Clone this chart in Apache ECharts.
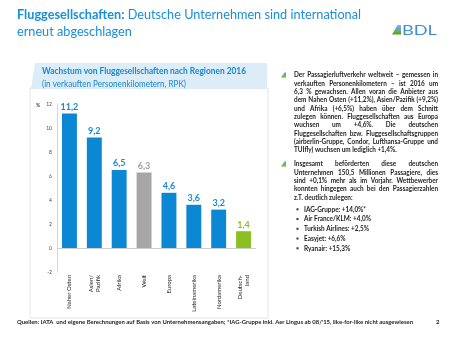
<!DOCTYPE html>
<html><head><meta charset="utf-8">
<script src="https://cdn.jsdelivr.net/npm/echarts@6/dist/echarts.min.js"></script>
<style>html,body{margin:0;padding:0;background:#fff}#c{width:467px;height:350px}</style>
</head><body><div id="c"></div>
<script>
// ---- data ----
const categories = ['Naher Osten', 'Asien/\nPazifik', 'Afrika', 'Welt', 'Europa', 'Lateinamerika', 'Nordamerika', 'Deutsch-\nland'];
const growth = [11.2, 9.2, 6.5, 6.3, 4.6, 3.6, 3.2, 1.4];
const barGroup = ['region', 'region', 'region', 'world', 'region', 'region', 'region', 'germany'];
const yMin = -2, yMax = 12, yStep = 2;

const titleBold = 'Fluggesellschaften:';
const titleRest = ' Deutsche Unternehmen sind international';
const titleLine2 = 'erneut abgeschlagen';
const chartTitle1 = 'Wachstum von Fluggesellschaften nach Regionen 2016';
const chartTitle2 = '(in verkauften Personenkilometern, RPK)';
const para1 = [
  'Der Passagierluftverkehr weltweit – gemessen in',
  'verkauften Personenkilometern – ist 2016 um',
  '6,3 % gewachsen. Allen voran die Anbieter aus',
  'dem Nahen Osten (+11,2%), Asien/Pazifik (+9,2%)',
  'und Afrika (+6,5%) haben über dem Schnitt',
  'zulegen können. Fluggesellschaften aus Europa',
  'wuchsen um +4,6%. Die deutschen',
  'Fluggesellschaften bzw. Fluggesellschaftsgruppen',
  '(airberlin-Gruppe, Condor, Lufthansa-Gruppe und',
  'TUIfly) wuchsen um lediglich +1,4%.'
];
const para2 = [
  'Insgesamt beförderten diese deutschen',
  'Unternehmen 150,5 Millionen Passagiere, dies',
  'sind +0,1% mehr als im Vorjahr. Wettbewerber',
  'konnten hingegen auch bei den Passagierzahlen',
  'z.T. deutlich zulegen:'
];
const subBullets = ['IAG-Gruppe: +14,0%*', 'Air France/KLM: +4,0%', 'Turkish Airlines: +2,5%', 'Easyjet: +6,6%', 'Ryanair: +15,3%'];
const footnote = "Quellen: IATA  und eigene Berechnungen auf Basis von Unternehmensangaben; *IAG-Gruppe inkl. Aer Lingus ab 08/'15, like-for-like nicht ausgewiesen";
const pageNo = '2';

// ---- style ----
const FONT = 'Lato';
const colorOf = { region: '#0b87d3', world: '#a6a6a6', germany: '#8cbf22' };
const labelColorOf = { region: '#1a8ad6', world: '#a0a0a0', germany: '#8dc21f' };

const cv = document.createElement('canvas').getContext('2d');
function measure(t, size, weight) { cv.font = (weight || 'normal') + ' ' + size + 'px ' + FONT; return cv.measureText(t).width; }

const G = [];
function txt(t, x, y, size, weight, color, sx) {
  G.push({ type: 'text', x: x, y: y, scaleX: sx || 1, silent: true,
    style: { text: t, fontSize: size, fontFamily: FONT, fontWeight: weight || 'normal', fill: color, align: 'left', verticalAlign: 'middle' } });
}
function fitTxt(t, x, y, size, weight, color, W) { txt(t, x, y, size, weight, color, W / measure(t, size, weight)); }

// header title
(function () {
  const s = 12.5;
  const wb = measure(titleBold, s, 'bold'), wr = measure(titleRest, s, 'normal');
  const k = 344 / (wb + wr);
  txt(titleBold, 17, 15, s, 'bold', '#1a8ed8', k);
  txt(titleRest, 17 + wb * k, 15, s, 'normal', '#1a8ed8', k);
  txt(titleLine2, 17, 32, s, 'normal', '#1a8ed8', k);
})();

// logo
G.push({ type: 'polygon', silent: true, shape: { points: [[392, 34.5], [397.5, 25], [401, 25], [401, 34.5]] },
  style: { fill: { type: 'linear', x: 0, y: 0, x2: 0, y2: 1, colorStops: [{ offset: 0, color: '#7fb6e0' }, { offset: 0.55, color: '#5aa0d8' }, { offset: 0.6, color: '#79b83a' }, { offset: 1, color: '#4c9a2a' }] } } });
txt('BDL', 402, 30.5, 14, 'normal', '#3e8fd0', 1.3);

// panel
G.push({ type: 'rect', silent: true, z: -10, shape: { x: 30, y: 88, width: 238, height: 230 }, style: { fill: '#fff', stroke: '#e4e4e4', lineWidth: 1 } });
G.push({ type: 'polygon', silent: true, z: -9, shape: { points: [[35, 63], [267, 63], [267, 89], [31, 89]] }, style: { fill: '#dcedf8' } });
fitTxt(chartTitle1, 42, 71.5, 8.5, 'bold', '#1a86d0', 204);
fitTxt(chartTitle2, 42, 84, 8.5, 'normal', '#1a86d0', 144);
txt('%', 36, 105, 5, 'bold', '#444', 1);

// right text
(function () {
  const size = 7, wt = 'bold', col = '#1e1e1e', X = 294, W = 144;
  let cond = 1;
  para1.slice(0, -1).concat(para2.slice(0, -1)).forEach(l => { cond = Math.min(cond, W / (measure(l, size, wt) + 2)); });
  function para(lines, y0, lh) {
    lines.forEach((l, i) => {
      const y = y0 + i * lh;
      if (i === lines.length - 1) { txt(l, X, y, size, wt, col, cond); return; }
      const words = l.split(/ +/);
      const ws = words.map(w => measure(w, size, wt) * cond);
      const gap = (W - ws.reduce((a, b) => a + b, 0)) / (words.length - 1);
      let x = X;
      words.forEach((w, j) => { txt(w, x, y, size, wt, col, cond); x += ws[j] + gap; });
    });
  }
  para(para1, 75, 8.33);
  para(para2, 164, 8.33);
  subBullets.forEach((b, i) => {
    const y = 209.3 + i * 9.75;
    G.push({ type: 'rect', silent: true, shape: { x: 296.5, y: y - 1, width: 2, height: 2 }, style: { fill: '#333' } });
    txt(b, 304, y, size, wt, col, cond);
  });
  [75, 164].forEach(y => {
    G.push({ type: 'polygon', silent: true, shape: { points: [[281, y + 2.5], [284.5, y - 2.5], [286, y - 2.5], [286, y + 2.5]] },
      style: { fill: { type: 'linear', x: 0, y: 0, x2: 0, y2: 1, colorStops: [{ offset: 0, color: '#5aa6dc' }, { offset: 0.5, color: '#5aa6dc' }, { offset: 0.55, color: '#7fbf3a' }, { offset: 1, color: '#6aad2a' }] } } });
  });
})();

// footnote
fitTxt(footnote, 17, 322.5, 6, 'bold', '#1e1e1e', 396);
txt(pageNo, 436, 322.5, 6, 'bold', '#1e1e1e', 1);

const chart = echarts.init(document.getElementById('c'), null, { renderer: 'canvas' });
chart.setOption({
  animation: false,
  backgroundColor: '#fff',
  grid: { left: 57, right: 211, top: 104, bottom: 78, containLabel: false },
  xAxis: {
    type: 'category', data: categories,
    axisLine: { show: false, onZero: false }, axisTick: { show: false },
    axisLabel: { rotate: 90, fontSize: 6, fontFamily: FONT, color: '#222', margin: 3, interval: 0, lineHeight: 6.5 }
  },
  yAxis: {
    type: 'value', min: yMin, max: yMax, interval: yStep,
    axisLine: { show: true, lineStyle: { color: '#d6d6d6', width: 1 } },
    axisTick: { show: false }, splitLine: { show: false },
    axisLabel: { fontSize: 5, fontFamily: FONT, color: '#444', margin: 5 }
  },
  series: [{
    type: 'bar', barCategoryGap: '40%',
    data: growth.map((v, i) => ({
      value: v,
      itemStyle: { color: colorOf[barGroup[i]] },
      label: { color: labelColorOf[barGroup[i]] }
    })),
    label: {
      show: true, position: 'top', distance: 2, fontSize: 9, fontWeight: 'bold', fontFamily: FONT,
      formatter: p => String(p.value).replace('.', ',')
    },
    markLine: {
      silent: true, symbol: 'none', label: { show: false },
      lineStyle: { color: '#d0d0d0', type: 'solid', width: 1 },
      data: [{ yAxis: 0 }]
    }
  }],
  graphic: G
});
</script></body></html>
